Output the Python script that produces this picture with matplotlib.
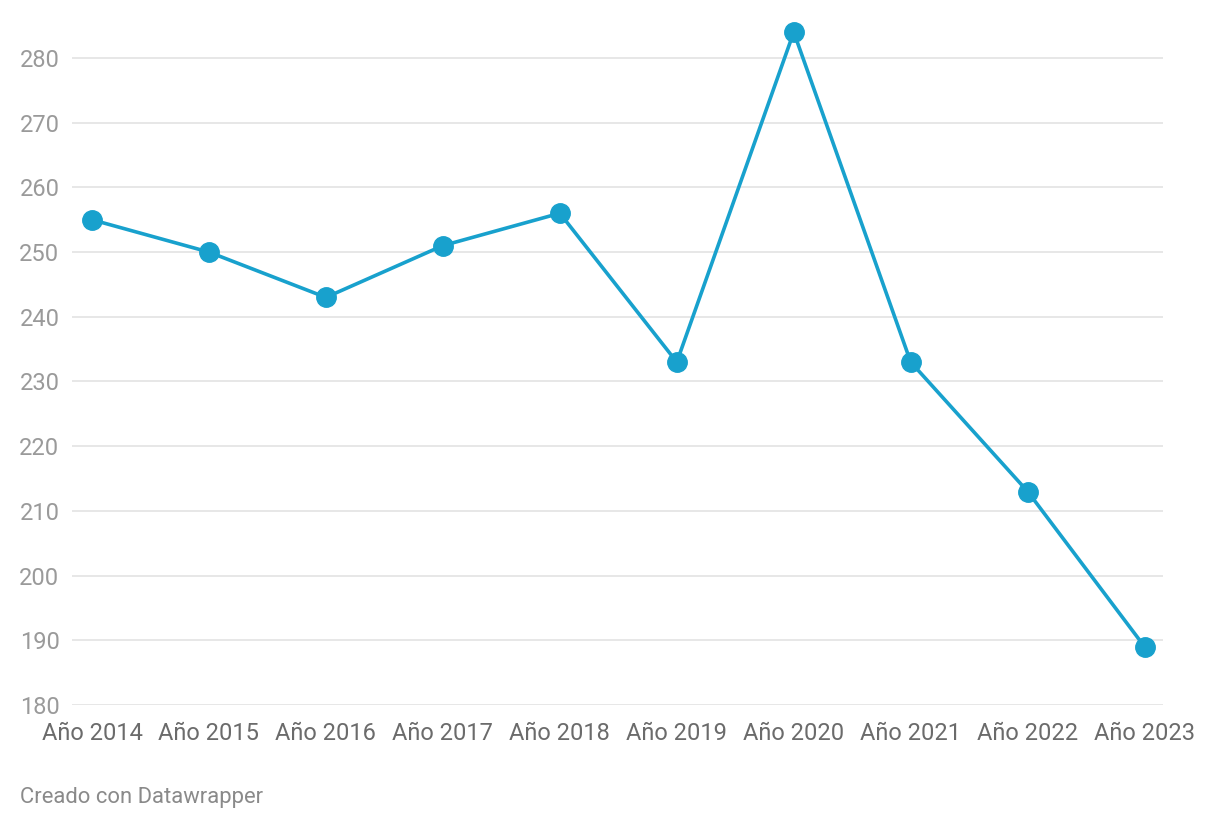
import matplotlib.pyplot as plt

plt.rcParams['font.family'] = ['Roboto', 'DejaVu Sans']

years = ['Año 2014', 'Año 2015', 'Año 2016', 'Año 2017', 'Año 2018',
         'Año 2019', 'Año 2020', 'Año 2021', 'Año 2022', 'Año 2023']
values = [255, 250, 243, 251, 256, 233, 284, 233, 213, 189]
y_ticks = [180, 190, 200, 210, 220, 230, 240, 250, 260, 270, 280]

fig = plt.figure(figsize=(12.2, 8.32), dpi=100)
ax = fig.add_axes([0.059, 0.1526, 0.894, 0.8244])

xs = list(range(len(years)))
ax.plot(xs, values, color='#18a1cd', linewidth=2.6, marker='o',
        markersize=14, clip_on=False, zorder=3)

ax.set_xlim(-0.171, 9.154)
ax.set_ylim(180, 286)
ax.set_yticks(y_ticks)
ax.set_xticks(xs)
ax.set_xticklabels(years)

ax.grid(axis='y', color='#e3e3e3', linewidth=1.2)
ax.set_axisbelow(True)
for s in ax.spines.values():
    s.set_visible(False)
ax.tick_params(axis='y', length=0, pad=9, labelsize=17, labelcolor='#9a9a9a')
ax.tick_params(axis='x', length=0, pad=12, labelsize=17, labelcolor='#6b6b6b')

fig.text(20 / 1220, 1 - 798 / 832, 'Creado con Datawrapper', fontsize=15.8,
         color='#8a8a8a', va='center', ha='left')

fig.savefig('out.png', dpi=100)
